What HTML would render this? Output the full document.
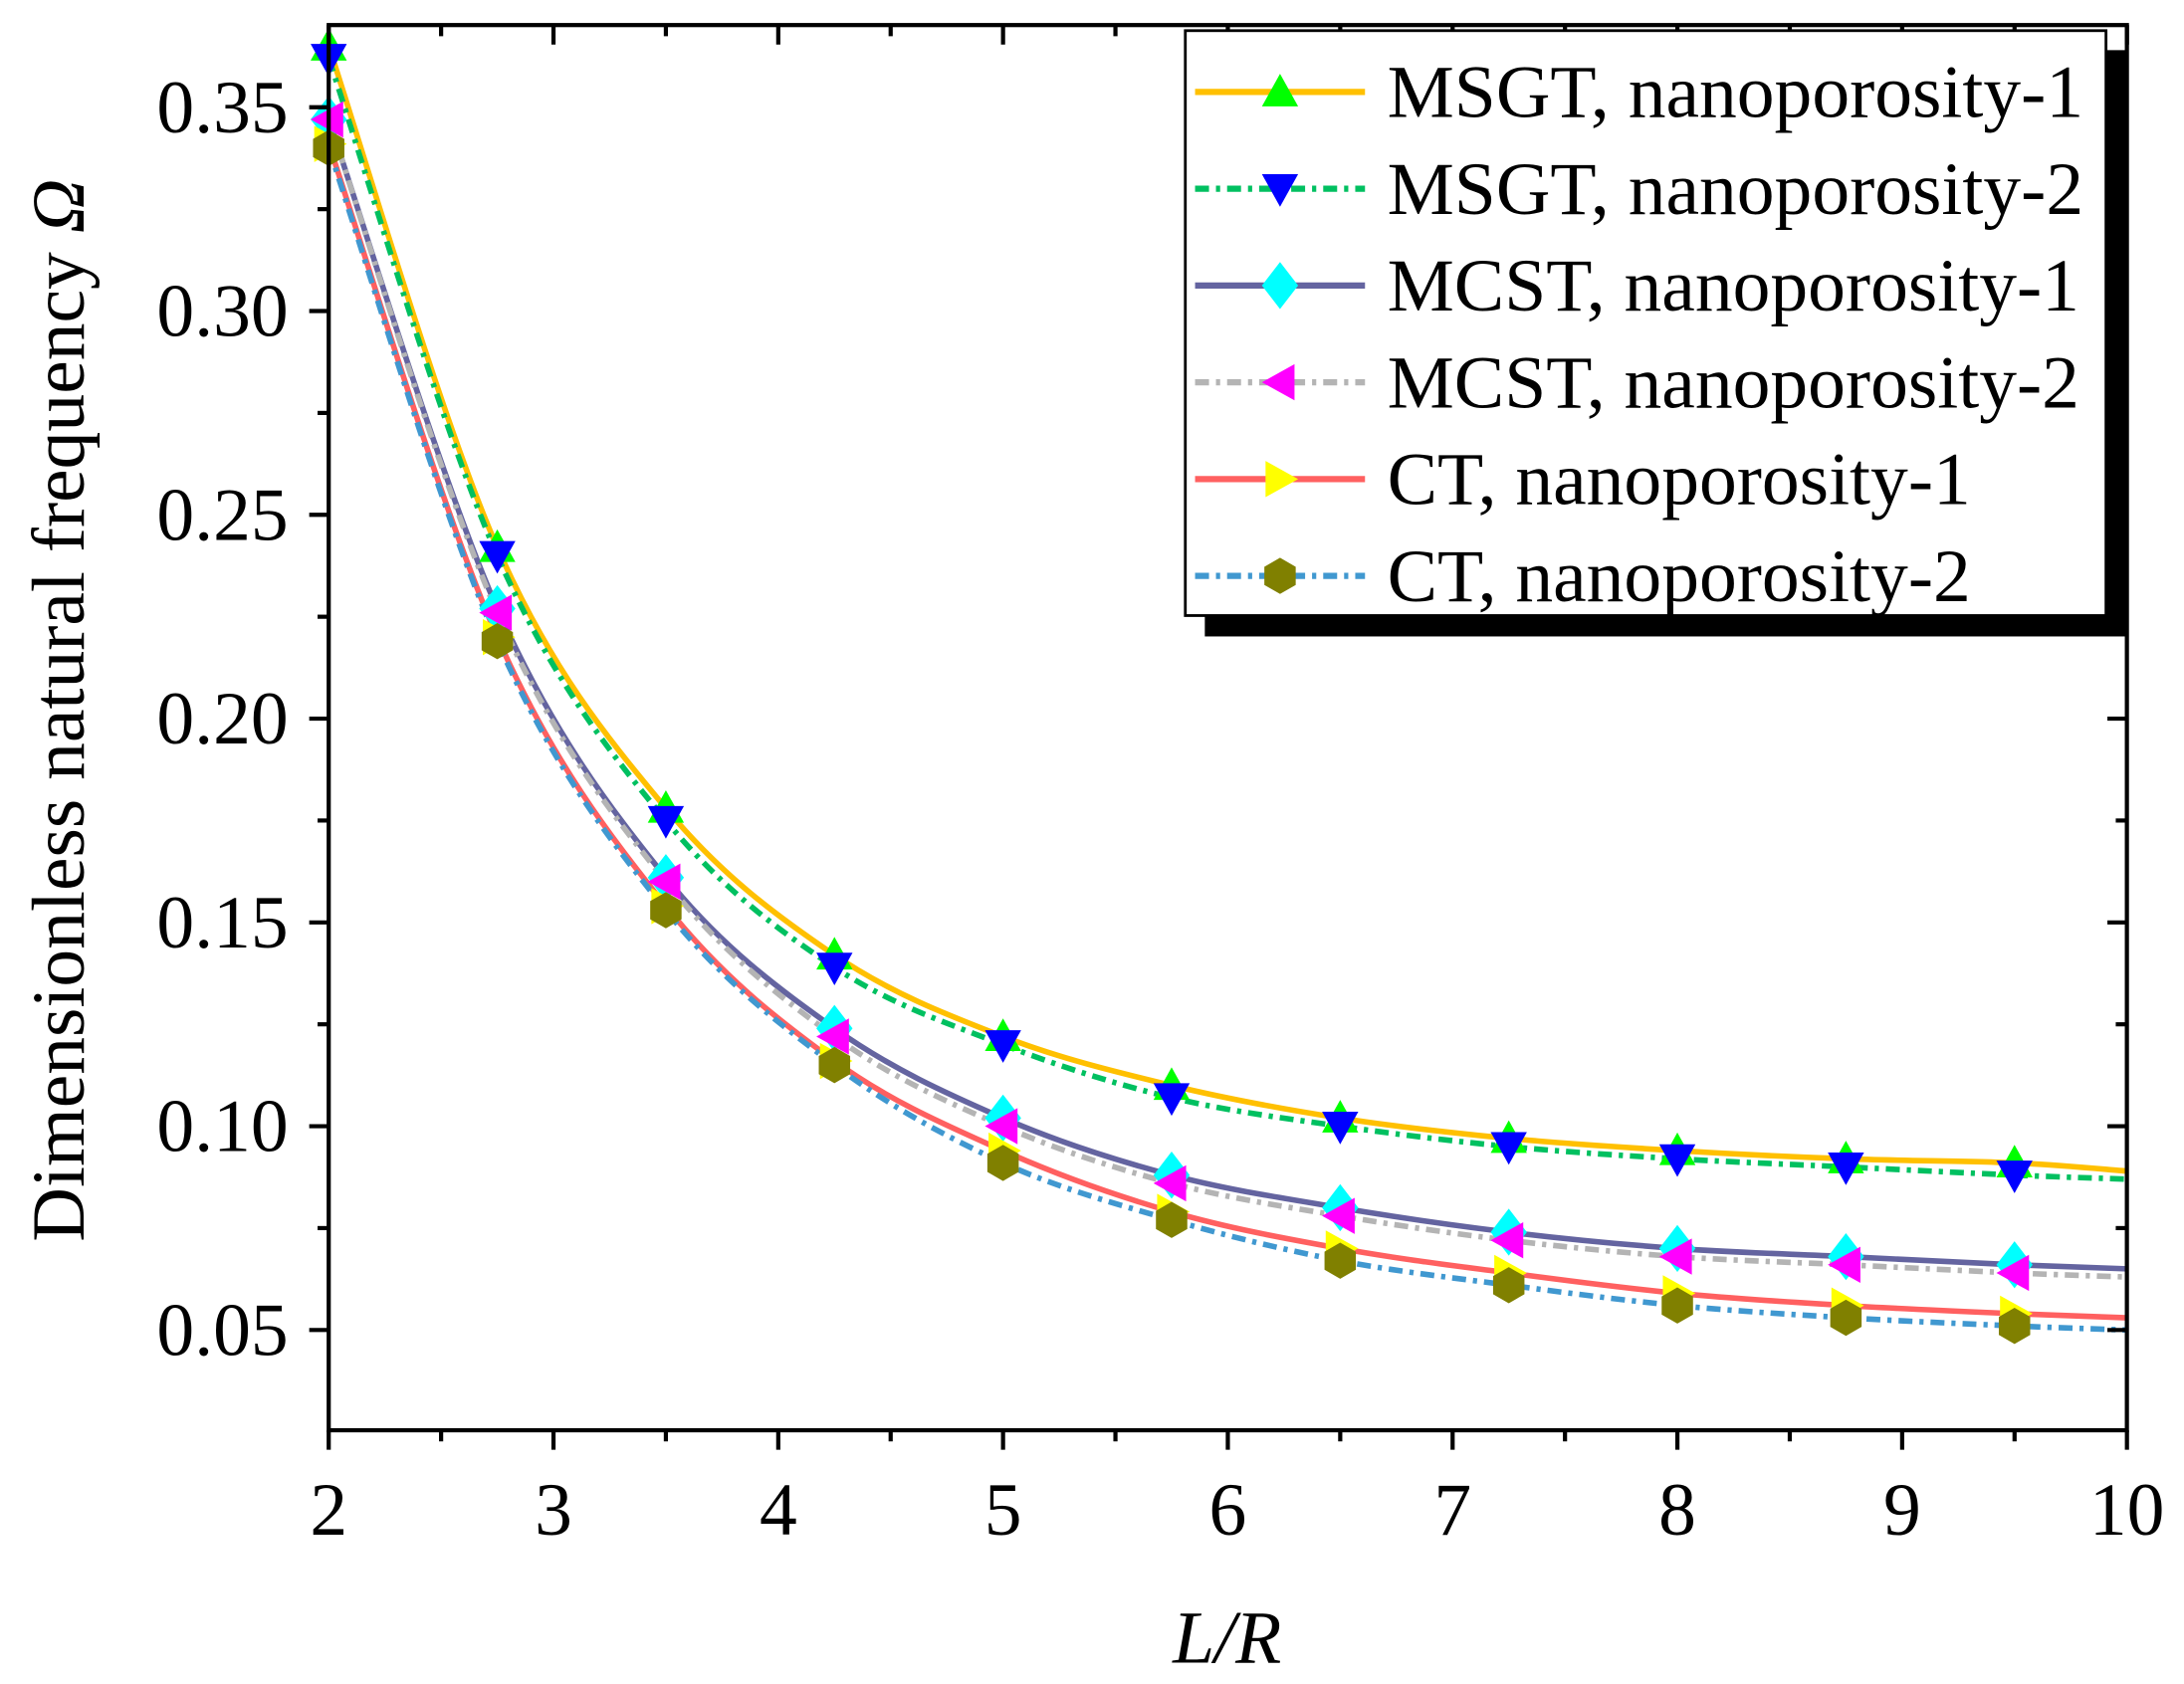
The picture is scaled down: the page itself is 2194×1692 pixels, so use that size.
<!DOCTYPE html>
<html><head><meta charset="utf-8"><style>
html,body{margin:0;padding:0;background:#fff}
svg{display:block}
text{font-family:"Liberation Serif",serif;fill:#000}
</style></head><body>
<svg id="s" width="2194" height="1692" viewBox="0 0 1568 1209.2" preserveAspectRatio="none" xmlns="http://www.w3.org/2000/svg">
<g id="curves"></g>
<g id="marks"></g>
<g id="axes" stroke="#000" stroke-width="3" fill="none"></g>
<g id="labels"></g>
<!-- legend -->
<rect x="865" y="36" width="662" height="421" fill="#000"/>
<rect x="851" y="22" width="661" height="420" fill="#fff" stroke="#000" stroke-width="2"/>
<g id="leg"></g>
<text x="0" y="0" font-size="54" transform="translate(60,510) rotate(-90)" text-anchor="middle">Dimensionless natural frequency <tspan font-style="italic">Ω</tspan></text>
<text x="881" y="1194" font-size="54" text-anchor="middle" font-style="italic">L/R</text>
</svg>
<script>
const NS="http://www.w3.org/2000/svg";
const X=v=>236+(v-2)*161.375, Y=v=>955-(v-0.05)/0.05*146.33;
const xs=[2,2.75,3.5,4.25,5,5.75,6.5,7.25,8,8.75,9.5,10];
const S=[
 {n:"MSGT, nanoporosity-1",c:"#FFC000",d:null,m:"up",mc:"#00FF00",v:[0.365,0.242,0.178,0.142,0.122,0.110,0.102,0.097,0.094,0.092,0.091,0.089]},
 {n:"MSGT, nanoporosity-2",c:"#00C060",d:"10 5 3 5",m:"down",mc:"#0000FF",v:[0.362,0.240,0.175,0.139,0.120,0.107,0.100,0.095,0.092,0.090,0.088,0.087]},
 {n:"MCST, nanoporosity-1",c:"#6464A0",d:null,m:"dia",mc:"#00FFFF",v:[0.347,0.227,0.161,0.124,0.102,0.088,0.080,0.074,0.070,0.068,0.066,0.065]},
 {n:"MCST, nanoporosity-2",c:"#B4B4B4",d:"10 5 3 5",m:"left",mc:"#FF00FF",v:[0.347,0.226,0.160,0.122,0.100,0.086,0.078,0.072,0.068,0.066,0.064,0.063]},
 {n:"CT, nanoporosity-1",c:"#FF6060",d:null,m:"right",mc:"#FFFF00",v:[0.341,0.220,0.154,0.116,0.094,0.079,0.070,0.064,0.059,0.056,0.054,0.053]},
 {n:"CT, nanoporosity-2",c:"#4098D0",d:"10 5 3 5",m:"hex",mc:"#808000",v:[0.340,0.219,0.153,0.115,0.091,0.077,0.067,0.061,0.056,0.053,0.051,0.050]}
];
function el(t,a,p){const e=document.createElementNS(NS,t);for(const k in a)e.setAttribute(k,a[k]);p.appendChild(e);return e;}
function marker(type,x,y,c,p){
 const r=13;let pts;
 if(type=="up")pts=[[x,y-r],[x+r,y+r*0.8],[x-r,y+r*0.8]];
 else if(type=="down")pts=[[x,y+r],[x+r,y-r*0.8],[x-r,y-r*0.8]];
 else if(type=="left")pts=[[x-r,y],[x+r*0.8,y-r],[x+r*0.8,y+r]];
 else if(type=="right")pts=[[x+r,y],[x-r*0.8,y-r],[x-r*0.8,y+r]];
 else if(type=="dia")pts=[[x,y-r*1.3],[x+r,y],[x,y+r*1.3],[x-r,y]];
 else {pts=[];for(let i=0;i<6;i++){const a=Math.PI/6+i*Math.PI/3;pts.push([x+r*Math.cos(a),y+r*Math.sin(a)]);}}
 el("polygon",{points:pts.map(q=>q.join(",")).join(" "),fill:c},p);
}
const cg=document.getElementById("curves"),mg=document.getElementById("marks");
S.forEach(s=>{
 const P=xs.map((x,i)=>[X(x),Y(s.v[i])]);let d="M"+P[0];
 for(let i=0;i<P.length-1;i++){const p0=P[i-1]||P[i],p1=P[i],p2=P[i+1],p3=P[i+2]||P[i+1];
  const c1=[p1[0]+(p2[0]-p0[0])/6,p1[1]+(p2[1]-p0[1])/6],c2=[p2[0]-(p3[0]-p1[0])/6,p2[1]-(p3[1]-p1[1])/6];
  d+=" C"+c1+" "+c2+" "+p2;}
 const a={d:d,fill:"none",stroke:s.c,"stroke-width":4};if(s.d)a["stroke-dasharray"]=s.d;el("path",a,cg);
});
S.forEach(s=>{xs.slice(0,11).forEach((x,i)=>marker(s.m,X(x),Y(s.v[i]),s.mc,mg));});
const ax=document.getElementById("axes"),lb=document.getElementById("labels");
el("rect",{x:236,y:18,width:1291,height:1009},ax);
for(let i=0;i<=16;i++){const x=236+i*80.69,L=i%2?8:14;
 el("line",{x1:x,y1:1027,x2:x,y2:1027+L},ax);el("line",{x1:x,y1:18,x2:x,y2:18+L},ax);
 if(i%2==0){const t=el("text",{x:x,y:1102,"font-size":54,"text-anchor":"middle"},lb);t.textContent=2+i/2;}}
for(let k=0;k<14;k++){const v=0.025+k*0.025;const y=Y(v);if(y<18||y>1027)continue;const maj=Math.abs(Math.round(v*1000)%50)<1;const L=maj?14:8;
 el("line",{x1:236,y1:y,x2:236-L,y2:y},ax);el("line",{x1:1527,y1:y,x2:1527-L,y2:y},ax);
 if(maj){const t=el("text",{x:207,y:y+18,"font-size":54,"text-anchor":"end"},lb);t.textContent=v.toFixed(2);}}
const lg=document.getElementById("leg");
S.forEach((s,i)=>{const y=66+i*69.5;
 const a={x1:858,y1:y,x2:980,y2:y,stroke:s.c,"stroke-width":4.5};if(s.d)a["stroke-dasharray"]=s.d;el("line",a,lg);
 marker(s.m,919,y,s.mc,lg);
 const t=el("text",{x:996,y:y+18,"font-size":54},lg);t.textContent=s.n;});
</script>
</body></html>
